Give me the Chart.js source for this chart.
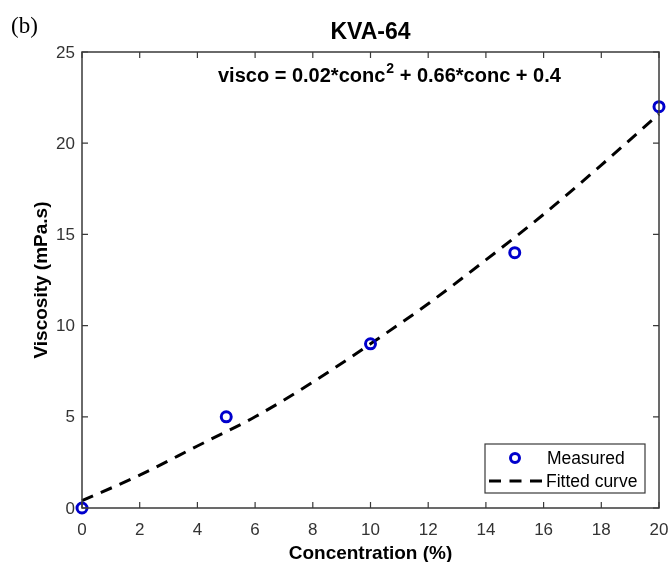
<!DOCTYPE html>
<html>
<head>
<meta charset="utf-8">
<script src="https://cdn.jsdelivr.net/npm/chart.js@4/dist/chart.umd.min.js"></script>
<style>
  html, body { margin: 0; padding: 0; background: #fff; }
  #wrap { width: 670px; height: 562px; }
</style>
</head>
<body>
<div id="wrap"><canvas id="chart"></canvas></div>
<script>
// measured points
const concMeasured = [0, 5, 10, 15, 20];
const viscoMeasured = [0, 5, 9, 14, 22];

// fitted curve
const concFit = [0, 2, 4, 6, 8, 10, 12, 14, 16, 18, 20];
const viscoFit = [0.4, 1.8, 3.4, 5.0, 6.9, 9.0, 11.2, 13.6, 16.1, 18.8, 21.6];

const xTicks = [0, 2, 4, 6, 8, 10, 12, 14, 16, 18, 20];
const yTicks = [0, 5, 10, 15, 20, 25];

const blue = '#0000cc';
const axisCol = '#3a3a3a';
const font = 'Liberation Sans, Arial, sans-serif';

// box, inward ticks, labels, titles and legend in MATLAB style
const frame = {
  id: 'frame',
  afterDatasetsDraw(chart) {
    const { ctx, chartArea: a, scales: { x, y } } = chart;
    ctx.save();
    ctx.strokeStyle = axisCol;
    ctx.lineWidth = 1.5;
    ctx.strokeRect(a.left, a.top, a.right - a.left, a.bottom - a.top);
    ctx.lineWidth = 1.2;
    ctx.beginPath();
    xTicks.forEach(v => {
      const px = x.getPixelForValue(v);
      ctx.moveTo(px, a.bottom); ctx.lineTo(px, a.bottom - 6);
      ctx.moveTo(px, a.top); ctx.lineTo(px, a.top + 6);
    });
    yTicks.forEach(v => {
      const py = y.getPixelForValue(v);
      ctx.moveTo(a.left, py); ctx.lineTo(a.left + 6, py);
      ctx.moveTo(a.right, py); ctx.lineTo(a.right - 6, py);
    });
    ctx.stroke();

    // tick labels
    ctx.fillStyle = '#333';
    ctx.font = '17px ' + font;
    ctx.textBaseline = 'alphabetic';
    ctx.textAlign = 'center';
    xTicks.forEach(v => ctx.fillText(String(v), x.getPixelForValue(v), 535));
    ctx.textAlign = 'right';
    ctx.textBaseline = 'middle';
    yTicks.forEach(v => ctx.fillText(String(v), a.left - 7, y.getPixelForValue(v) + 1));

    // axis titles
    ctx.fillStyle = '#000';
    ctx.font = 'bold 19px ' + font;
    ctx.textAlign = 'center';
    ctx.textBaseline = 'alphabetic';
    ctx.fillText('Concentration (%)', (a.left + a.right) / 2, 559);
    ctx.save();
    ctx.translate(47, (a.top + a.bottom) / 2);
    ctx.rotate(-Math.PI / 2);
    ctx.fillText('Viscosity (mPa.s)', 0, 0);
    ctx.restore();

    // (b)
    ctx.font = '23px "Liberation Serif", serif';
    ctx.textAlign = 'left';
    ctx.fillText('(b)', 11, 33);

    // title
    ctx.font = 'bold 23px ' + font;
    ctx.textAlign = 'center';
    ctx.fillText('KVA-64', (a.left + a.right) / 2, 39);

    // equation with superscript
    ctx.font = 'bold 20px ' + font;
    ctx.textAlign = 'left';
    let tx = 218;
    const ty = 82;
    const p1 = 'visco = 0.02*conc';
    ctx.fillText(p1, tx, ty);
    tx += ctx.measureText(p1).width + 1;
    ctx.font = 'bold 14px ' + font;
    ctx.fillText('2', tx, ty - 9);
    tx += ctx.measureText('2').width;
    ctx.font = 'bold 20px ' + font;
    ctx.fillText(' + 0.66*conc + 0.4', tx, ty);

    // legend
    const lx = 485, ly = 444, lw = 160, lh = 49;
    ctx.fillStyle = '#fff';
    ctx.fillRect(lx, ly, lw, lh);
    ctx.strokeStyle = axisCol;
    ctx.lineWidth = 1.2;
    ctx.strokeRect(lx, ly, lw, lh);
    ctx.beginPath();
    ctx.arc(515, 458, 4.5, 0, Math.PI * 2);
    ctx.strokeStyle = blue;
    ctx.lineWidth = 3;
    ctx.stroke();
    ctx.beginPath();
    ctx.setLineDash([12, 8.5]);
    ctx.strokeStyle = '#000';
    ctx.lineWidth = 3;
    ctx.moveTo(489, 481); ctx.lineTo(543, 481);
    ctx.stroke();
    ctx.setLineDash([]);
    ctx.fillStyle = '#000';
    ctx.font = '17.5px ' + font;
    ctx.textBaseline = 'middle';
    ctx.fillText(chart.data.datasets[0].label, 547, 459);
    ctx.fillText(chart.data.datasets[1].label, 546, 482);
    ctx.restore();
  }
};

new Chart(document.getElementById('chart'), {
  type: 'scatter',
  data: {
    datasets: [{
      label: 'Measured',
      data: concMeasured.map((c, i) => ({ x: c, y: viscoMeasured[i] })),
      showLine: false,
      pointRadius: 5,
      pointBorderWidth: 3,
      pointBorderColor: blue,
      pointBackgroundColor: 'rgba(0,0,0,0)'
    }, {
      label: 'Fitted curve',
      data: concFit.map((c, i) => ({ x: c, y: viscoFit[i] })),
      showLine: true,
      pointRadius: 0,
      borderColor: '#000',
      borderWidth: 3,
      borderDash: [12, 8.5],
      cubicInterpolationMode: 'monotone'
    }]
  },
  options: {
    responsive: true,
    maintainAspectRatio: false,
    animation: false,
    clip: false,
    layout: { padding: { top: 52, right: 11, left: 0, bottom: 0 } },
    plugins: { legend: { display: false }, tooltip: { enabled: false } },
    scales: {
      x: {
        type: 'linear', min: 0, max: 20,
        grid: { display: false }, border: { display: false },
        ticks: { display: false },
        afterFit: s => { s.height = 54; }
      },
      y: {
        min: 0, max: 25,
        grid: { display: false }, border: { display: false },
        ticks: { display: false },
        afterFit: s => { s.width = 82; }
      }
    }
  },
  plugins: [frame]
});
</script>
</body>
</html>
